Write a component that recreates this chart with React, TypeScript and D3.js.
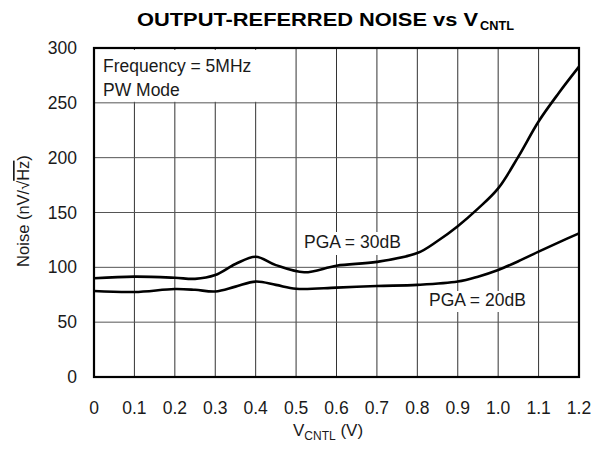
import React from "react";
import * as d3 from "d3";

const xTicks = [0, 0.1, 0.2, 0.3, 0.4, 0.5, 0.6, 0.7, 0.8, 0.9, 1.0, 1.1, 1.2];
const yTicks = [0, 50, 100, 150, 200, 250, 300];

const pga30X = [0, 0.1, 0.2, 0.25, 0.3, 0.35, 0.4, 0.45, 0.52, 0.6, 0.7, 0.8, 0.85, 0.9, 0.95, 1.0, 1.05, 1.1, 1.15, 1.2];
const pga30Y = [90, 91.5, 90.5, 89.5, 93, 103, 109.7, 102, 95.5, 101.5, 105, 113, 124, 137.5, 153.5, 172, 201, 233, 259, 283];

const pga20X = [0, 0.1, 0.2, 0.25, 0.3, 0.35, 0.4, 0.45, 0.5, 0.6, 0.7, 0.8, 0.9, 0.95, 1.0, 1.05, 1.1, 1.15, 1.2];
const pga20Y = [78.4, 77.5, 80.2, 79.5, 78, 82.4, 87, 84, 80.5, 81.5, 83, 84, 87, 91.5, 97.6, 105.5, 114.3, 122.8, 131];

const W = 594, H = 451;
const left = 94, right = 579, top = 48, bottom = 377;
const font = "'Liberation Sans', Arial, Helvetica, sans-serif";
const ink = "#1a1a1a";

export default function App() {
  const x = d3.scaleLinear().domain([0, 1.2]).range([left, right]);
  const y = d3.scaleLinear().domain([0, 300]).range([bottom, top]);

  const line = d3
    .line<[number, number]>()
    .x(d => x(d[0]))
    .y(d => y(d[1]))
    .curve(d3.curveCatmullRom.alpha(0.5));

  const d30 = line(pga30X.map((v, i) => [v, pga30Y[i]]));
  const d20 = line(pga20X.map((v, i) => [v, pga20Y[i]]));

  return (
    <div style={{ position: "absolute", left: 0, top: 0 }}>
      <svg width={W} height={H} style={{ display: "block", background: "#fff" }} fontFamily={font}>
        {/* title */}
        <text x={137} y={26} fontSize={18} fontWeight="bold" fill="#000" textLength={341} lengthAdjust="spacingAndGlyphs">
          OUTPUT-REFERRED NOISE vs V
        </text>
        <text x={480} y={29.5} fontSize={13} fontWeight="bold" fill="#000" textLength={34} lengthAdjust="spacingAndGlyphs">
          CNTL
        </text>

        {/* grid */}
        {xTicks.slice(1, -1).map(t => (
          <line key={"gx" + t} x1={x(t)} x2={x(t)} y1={top} y2={bottom} stroke="#333" strokeWidth={1} />
        ))}
        {yTicks.slice(1, -1).map(t => (
          <line key={"gy" + t} x1={left} x2={right} y1={y(t)} y2={y(t)} stroke="#555" strokeWidth={1} />
        ))}

        {/* annotation box */}
        <rect x={left + 1} y={top + 2} width={172} height={y(250) - top - 3} fill="#fff" />
        <text x={103} y={72} fontSize={17.5} fill={ink}>Frequency = 5MHz</text>
        <text x={103} y={96} fontSize={17.5} fill={ink}>PW Mode</text>

        {/* curve labels */}
        <rect x={300} y={232} width={110} height={23} fill="#fff" />
        <text x={304} y={248} fontSize={17.5} fill={ink}>PGA = 30dB</text>
        <rect x={426} y={291} width={108} height={21} fill="#fff" />
        <text x={429} y={306} fontSize={17.5} fill={ink}>PGA = 20dB</text>

        {/* curves */}
        <path d={d30 || ""} fill="none" stroke="#000" strokeWidth={2.6} />
        <path d={d20 || ""} fill="none" stroke="#000" strokeWidth={2.6} />

        {/* frame */}
        <rect x={left} y={top} width={right - left} height={bottom - top} fill="none" stroke="#000" strokeWidth={2.2} />

        {/* tick labels */}
        {xTicks.map(t => (
          <text key={"tx" + t} x={x(t)} y={414} textAnchor="middle" fontSize={17.5} fill={ink}>
            {t === 0 ? "0" : d3.format(".1f")(t)}
          </text>
        ))}
        {yTicks.map(t => (
          <text key={"ty" + t} x={77} y={y(t) + 6} textAnchor="end" fontSize={17.5} fill={ink}>
            {t}
          </text>
        ))}

        {/* axis titles */}
        <text x={293} y={436} fontSize={17} fill={ink}>
          V<tspan fontSize={12} dy={4}>CNTL</tspan>
          <tspan dy={-4}> (V)</tspan>
        </text>
        <text transform={`translate(29, 211) rotate(-90)`} textAnchor="middle" fontSize={16.5} fill={ink}>
          Noise (nV/√<tspan textDecoration="overline">Hz</tspan>)
        </text>
      </svg>
    </div>
  );
}
